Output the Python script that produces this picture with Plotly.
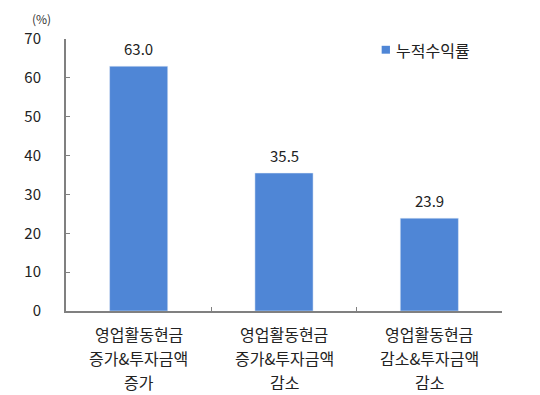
import plotly.graph_objects as go

categories = ["영업활동현금<br>증가&투자금액<br>증가", "영업활동현금<br>증가&투자금액<br>감소", "영업활동현금<br>감소&투자금액<br>감소"]
values = [63.0, 35.5, 23.9]
series_name = "누적수익률"
y_ticks = [0, 10, 20, 30, 40, 50, 60, 70]

FONT = "Noto Sans CJK KR"
BAR = "#4F86D6"
AXIS = "#808080"
TXT = "#222222"

fig = go.Figure()
fig.add_trace(go.Bar(x=categories, y=values, name=series_name, marker_color=BAR,
                     width=0.4, showlegend=False))
for c, v in zip(categories, values):
    fig.add_annotation(x=c, y=v, text=f"{v:.1f}", showarrow=False, yanchor="bottom",
                       yshift=5, font=dict(family=FONT, size=15, color=TXT))
# category labels, one line per annotation for wider line spacing
for c in categories:
    for i, line in enumerate(c.split("<br>")):
        fig.add_annotation(x=c, xref="x", y=0, yref="paper", text=line, showarrow=False,
                           yanchor="middle", yshift=-(23 + i * 24),
                           font=dict(family=FONT, size=16, color=TXT))
fig.add_annotation(x=-0.057, xref="paper", y=1.0, yref="paper", text="(%)", showarrow=False,
                   xanchor="center", yanchor="middle", yshift=21, borderpad=0,
                   font=dict(family=FONT, size=12, color="#333333"))
# legend
fig.add_shape(type="rect", xref="paper", yref="paper", x0=0.724, x1=0.743, y0=0.975, y1=0.946,
              fillcolor=BAR, line_width=0)
fig.add_annotation(x=0.752, xref="paper", y=0.96, yref="paper", text=series_name, showarrow=False,
                   xanchor="left", yanchor="middle", font=dict(family=FONT, size=16, color=TXT))

fig.update_layout(
    width=532, height=387,
    margin=dict(l=58, r=38, t=31, b=84),
    paper_bgcolor="white", plot_bgcolor="white",
    font=dict(family=FONT, size=15, color=TXT),
    bargap=0.6,
    xaxis=dict(type="category", showline=True, linecolor=AXIS, linewidth=2, ticks="inside",
               tickson="boundaries", ticklen=4, tickcolor=AXIS, showgrid=False,
               showticklabels=False, automargin=False),
    yaxis=dict(range=[0, 70], tickvals=y_ticks, showline=True, linecolor=AXIS, linewidth=2,
               ticks="inside", ticklen=4, tickcolor=AXIS, showgrid=False, zeroline=False,
               tickfont=dict(family=FONT, size=15, color=TXT), ticklabelstandoff=20,
               automargin=False),
)
fig.write_html("out.html")
